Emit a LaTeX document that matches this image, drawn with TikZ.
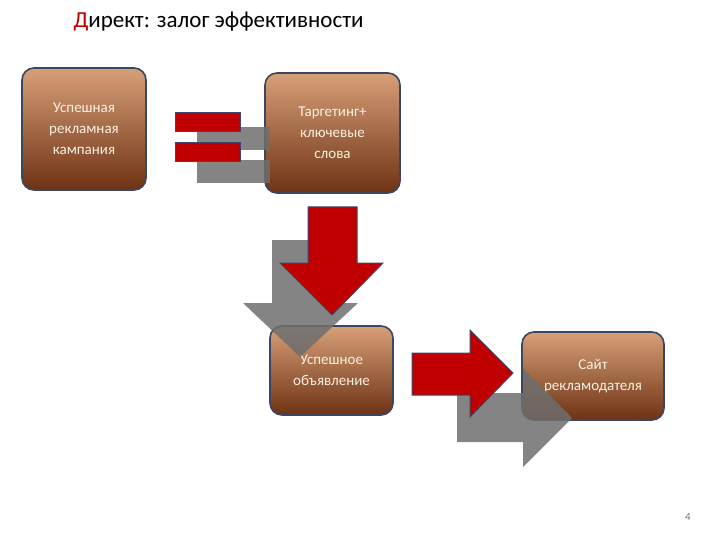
\documentclass[tikz,border=0pt]{standalone}
\usepackage{fontspec}
\setmainfont{Carlito}
\begin{document}
\begin{tikzpicture}[x=1pt,y=-1pt,
  box/.style={draw={rgb,255:red,60;green,70;blue,95},line width=1.6pt,rounded corners=12pt,
    top color={rgb,255:red,215;green,160;blue,120},middle color={rgb,255:red,170;green,95;blue,55},
    bottom color={rgb,255:red,110;green,50;blue,20},text={rgb,255:red,250;green,240;blue,225},
    font=\fontsize{15}{21}\selectfont,align=center,inner sep=0pt},
  redar/.style={fill={rgb,255:red,192;green,0;blue,0},draw={rgb,255:red,60;green,70;blue,110},line width=1pt},
  grayar/.style={fill={rgb,255:red,110;green,110;blue,110},fill opacity=0.85,draw=none}]
\useasboundingbox (0,0) rectangle (720,540);
\node[anchor=west,font=\fontsize{23}{27}\selectfont] (title) at (70,22) {\textcolor[rgb]{0.75,0,0}{Д}ирект: залог эффективности};
\node[box,minimum width=124pt,minimum height=122pt] (b1) at (84,129) {Успешная\\рекламная\\кампания};
\node[box,minimum width=135pt,minimum height=120pt] (b2) at (332.5,133) {Таргетинг+\\ключевые\\слова};
\node[box,minimum width=123pt,minimum height=89pt] (b3) at (331.5,370.5) {Успешное\\объявление};
\node[box,minimum width=142pt,minimum height=88pt] (b4) at (593,376) {Сайт\\рекламодателя};
% equals sign
\fill[grayar] (197,127) rectangle (270,150);
\fill[grayar] (197,160) rectangle (270,183);
\draw[redar] (175,113) rectangle (240,132);
\draw[redar] (175,143) rectangle (240,162);
% down arrows
\fill[grayar] (272,240) -- (330,240) -- (330,303) -- (358,303) -- (300,357) -- (243,303) -- (272,303) -- cycle;
\draw[redar] (308,207) -- (357,207) -- (357,263) -- (383,263) -- (332,315) -- (280,263) -- (308,263) -- cycle;
% right arrows
\fill[grayar] (457,393) -- (523,393) -- (523,368) -- (572,418) -- (523,467) -- (523,442) -- (457,442) -- cycle;
\draw[redar] (412,353) -- (470,353) -- (470,330) -- (513,373) -- (470,417) -- (470,395) -- (412,395) -- cycle;
\node[text={rgb,255:red,120;green,120;blue,120},font=\fontsize{11}{13}\selectfont] (pg) at (688,517) {4};
\end{tikzpicture}
\end{document}
